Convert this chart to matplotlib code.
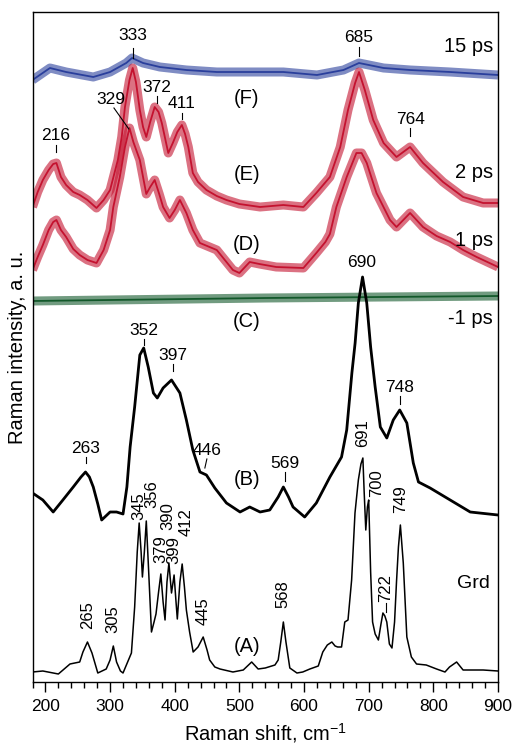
import matplotlib
matplotlib.use("Agg")
import matplotlib.pyplot as plt
from matplotlib.ticker import MultipleLocator

plt.rcParams['font.family'] = ['Liberation Sans', 'DejaVu Sans']
plt.rcParams['mathtext.default'] = 'regular'

# ---------------- data (Raman shift in cm-1, intensity in a.u. incl. offset) ----------------
a_x = [180, 196, 220, 238, 253, 258, 265, 272, 281, 294, 300, 305, 310, 316, 320, 333, 338, 342, 345,
       348, 350, 353, 356, 359, 364, 368, 371, 375, 378.5, 382, 385, 388, 391, 395, 399, 402, 404, 408,
       411.5, 415, 418, 423, 428.5, 436, 444, 450, 454, 462, 470, 490, 506, 519, 529, 540, 555, 560,
       564, 568, 572, 578, 589, 598, 609, 622, 629, 636, 643, 648, 652, 658, 663, 668, 673.6, 678.8,
       684, 688, 691, 693, 695.5, 698, 700, 703, 706, 710, 715, 719, 722, 725, 728, 732, 736, 740,
       743, 746, 749, 753.5, 759, 766, 774, 789, 805, 818, 825, 836, 846, 877, 900]
a_y = [10, 11, 8, 18, 20, 30, 40, 29, 9, 13, 22, 36, 20, 11, 9, 29, 75, 130, 159,
       130, 105, 130, 161, 120, 50, 60, 68, 90, 108, 80, 62, 100, 119, 89, 107, 80, 63, 100,
       118, 95, 72, 50, 30, 35, 45, 32, 22, 15, 13, 10, 12, 20, 13, 14, 17, 22,
       40, 60, 40, 14, 9, 10, 13, 16, 30, 37, 40, 36, 35, 35, 60, 62, 102, 169,
       202, 218, 224, 190, 152, 175, 182, 110, 60, 48, 42, 58, 69, 66, 60, 38, 34, 60,
       100, 135, 157, 119, 45, 25, 18, 17, 13, 10, 15, 20, 12, 12, 11]

b_x = [180, 196, 212, 227, 243, 255, 262, 268, 274, 281, 287, 300, 310, 320, 326, 331, 338, 346, 352,
       359, 367, 373, 382, 395, 408, 418, 428, 439, 449, 462, 480, 501, 516, 532, 547, 560, 568, 576,
       583, 601, 619, 640, 658, 666, 674, 679, 684, 690.5, 697, 703, 710, 718, 728, 738, 748, 759,
       769, 777, 795, 826, 857, 900]
b_y = [189, 182, 170, 182, 195, 205, 210, 205, 195, 178, 162, 170, 170, 168, 195, 235, 275, 327, 334,
       315, 289, 284, 294, 302, 289, 262, 232, 210, 207, 194, 179, 170, 175, 170, 172, 185, 195, 185,
       175, 165, 179, 205, 225, 252, 309, 339, 379, 405, 379, 335, 295, 255, 244, 262, 272, 259,
       219, 200, 194, 182, 170, 167]

c_x = [180, 540, 900]
c_y = [381, 384, 386]

d_x = [180, 188, 196, 205, 212, 217, 224, 232, 243, 253, 265, 279, 290, 300, 305, 315, 323, 330, 336,
       346, 356, 362, 369, 376, 382, 392, 400, 408, 418, 428, 439, 465, 490, 500, 516, 531, 557, 599,
       619, 633, 640, 650, 666, 681, 689, 697, 712, 733, 743, 764, 784, 805, 826, 846, 867, 900]
d_y = [412, 425, 437, 452, 460, 462, 452, 445, 433, 427, 422, 419, 432, 452, 475, 505, 535, 554, 540,
       522, 488, 495, 502, 488, 475, 464, 472, 482, 469, 452, 439, 432, 412, 409, 420, 418, 415, 414,
       429, 440, 448, 475, 505, 529, 529, 519, 489, 462, 455, 469, 455, 446, 440, 432, 425, 415]

e_x = [180, 188, 196, 205, 212, 217, 224, 232, 243, 253, 265, 279, 290, 300, 312, 318, 323, 330, 335,
       340, 346, 351, 356, 362, 369, 375, 380, 390, 397, 404, 411, 416, 421, 428, 436, 449, 465, 480,
       500, 532, 568, 599, 619, 640, 656, 668, 679, 685, 694, 707, 723, 743, 764, 784, 815, 846, 877, 900]
e_y = [475, 490, 502, 512, 518, 519, 505, 497, 490, 487, 482, 474, 482, 492, 522, 545, 575, 602, 614,
       600, 572, 555, 545, 560, 575, 570, 559, 529, 539, 550, 557, 548, 535, 509, 500, 492, 486, 482,
       478, 475, 477, 475, 489, 505, 535, 572, 599, 610, 592, 562, 539, 525, 535, 519, 500, 485, 479, 479]

f_x = [180, 207, 232, 274, 300, 325, 334, 351, 377, 418, 465, 532, 568, 620, 661, 685, 723, 764, 826, 900]
f_y = [602, 614, 610, 605, 610, 619, 624, 619, 615, 612, 610, 610, 610, 607, 612, 619, 614, 612, 610, 607]

# peak labels (text, x, y) and their short tick marks (x, y_top, y_bottom)
peak_labels = [("333", 335, 647), ("685", 685, 645), ("372", 372.3, 595), ("411", 411, 578),
               ("329", 301, 582), ("216", 216, 546), ("764", 764, 563), ("690", 689.8, 420),
               ("352", 352, 352), ("397", 397, 327), ("748", 748.5, 295), ("263", 262.4, 234),
               ("446", 449.7, 232), ("569", 570, 219)]
tick_marks = [(335, 634, 624), (685, 635, 626), (372.3, 586, 579), (411, 569, 563), (216, 537, 530),
              (764, 554, 546), (352, 343, 337), (397, 318, 311), (748.5, 286, 278), (262.4, 225, 219),
              (570, 210, 201)]
slanted_marks = [((306, 574), (329, 553)), ((449.7, 223), (446.6, 214))]
rot_labels = [("265", 265, 67), ("305", 304, 63), ("345", 344.4, 176), ("356", 364.5, 188),
              ("379", 378.0, 133), ("390", 389.3, 166), ("399", 399.3, 132), ("412", 417.2, 160),
              ("445", 443.5, 71), ("568", 567.3, 88), ("691", 691.2, 249), ("700", 712.4, 199),
              ("722", 726.8, 94), ("749", 749.5, 183)]
trace_tags = [("(F)", 511.6, 584), ("(E)", 511.6, 508), ("(D)", 511.6, 438), ("(C)", 511.6, 361),
              ("(B)", 511.6, 203), ("(A)", 511.6, 35)]
time_tags = [("15 ps", 635), ("2 ps", 509), ("1 ps", 442), ("-1 ps", 364)]

RED = "#c4122f"
BLUE = "#2a3f9c"
GREEN = "#13592b"

fig = plt.figure(figsize=(5.12, 7.46), dpi=100)
ax = fig.add_axes([32.5 / 512, 1 - 682 / 746, (498 - 32.5) / 512, 670 / 746])


def band(x, y, color, wide=6.5, alpha=0.6, thin=1.3):
    ax.plot(x, y, color=color, lw=wide, alpha=alpha, solid_joinstyle='round', solid_capstyle='butt')
    ax.plot(x, y, color=color, lw=thin, solid_joinstyle='round')


band(f_x, f_y, BLUE)
band(e_x, e_y, RED)
band(d_x, d_y, RED)
band(c_x, c_y, GREEN)
ax.plot(b_x, b_y, color='black', lw=2.0, solid_joinstyle='round')
ax.plot(a_x, a_y, color='black', lw=1.1, solid_joinstyle='round')

LBL = 12.5
for t, x, y in peak_labels:
    ax.text(x, y, t, fontsize=LBL, ha='center', va='center')
for x, y1, y2 in tick_marks:
    ax.plot([x, x], [y1, y2], color='black', lw=0.8)
for (x1, y1), (x2, y2) in slanted_marks:
    ax.plot([x1, x2], [y1, y2], color='black', lw=0.8)
for t, x, y in rot_labels:
    ax.text(x, y, t, fontsize=12, ha='center', va='center', rotation=90)
ax.plot([726.8, 726.8], [79, 70], color='black', lw=0.8)
for t, x, y in trace_tags:
    ax.text(x, y, t, fontsize=14.5, ha='center', va='center')
for t, y in time_tags:
    ax.text(892.6, y, t, fontsize=14.5, ha='right', va='center')
ax.text(861.5, 99, "Grd", fontsize=14, ha='center', va='center')

ax.set_xlim(180, 900)
ax.set_ylim(0, 670)
ax.xaxis.set_major_locator(MultipleLocator(100))
ax.xaxis.set_minor_locator(MultipleLocator(20))
ax.tick_params(axis='x', which='major', direction='out', length=7, width=1.0, labelsize=12.5, pad=5)
ax.tick_params(axis='x', which='minor', direction='out', length=4, width=1.0)
ax.set_yticks([])
for s in ax.spines.values():
    s.set_linewidth(1.0)
ax.set_xlabel("Raman shift, cm$^{-1}$", fontsize=14.5, labelpad=5)
ax.set_ylabel("Raman intensity, a. u.", fontsize=14.5, labelpad=4)

fig.savefig("out.png", dpi=100)
